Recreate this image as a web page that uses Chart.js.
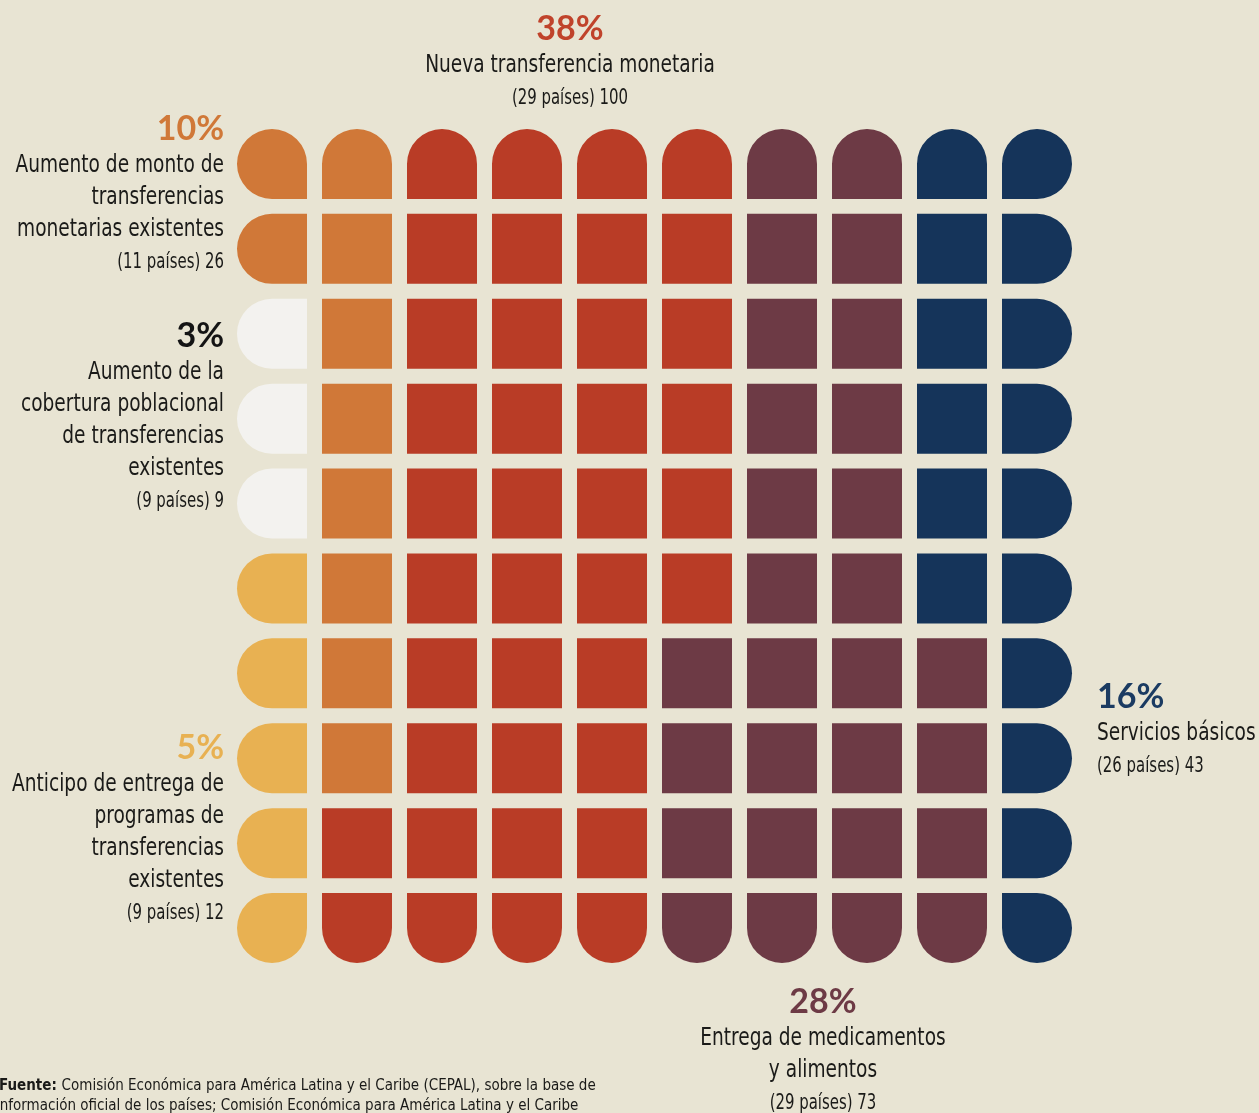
<!DOCTYPE html>
<html>
<head>
<meta charset="utf-8">
<script src="https://cdn.jsdelivr.net/npm/chart.js@4.4.1/dist/chart.umd.min.js"></script>
<style>
html, body { margin: 0; padding: 0; background: #E8E4D3; overflow: hidden; }
canvas { display: block; }
</style>
</head>
<body>
<canvas id="waffleChart" width="1259" height="1113"></canvas>
<script>
// one entry per measure type, largest share first
var categories = [
    ['Nueva transferencia monetaria'],
    ['Entrega de medicamentos', 'y alimentos'],
    ['Servicios básicos'],
    ['Aumento de monto de', 'transferencias', 'monetarias existentes'],
    ['Anticipo de entrega de', 'programas de', 'transferencias', 'existentes'],
    ['Aumento de la', 'cobertura poblacional', 'de transferencias', 'existentes']
];
var percents = [38, 28, 16, 10, 5, 3];
var countries = [29, 29, 26, 11, 9, 9];
var measures = [100, 73, 43, 26, 12, 9];
var colors = ['#B93C26', '#6D3A45', '#15345A', '#D07838', '#E8B152', '#F3F2EF'];
var pctColors = ['#C0432B', '#6D3A45', '#1B3B62', '#D07838', '#E8B152', '#141414'];

// 10 x 10 waffle, one letter per square (1 %), letters in the order of categories
var codes = ['R', 'M', 'N', 'O', 'Y', 'W'];
var grid = [
    'OORRRRMMNN',
    'OORRRRMMNN',
    'WORRRRMMNN',
    'WORRRRMMNN',
    'WORRRRMMNN',
    'YORRRRMMNN',
    'YORRRMMMMN',
    'YORRRMMMMN',
    'YRRRRMMMMN',
    'YRRRRMMMMN'
];
var columns = ['1', '2', '3', '4', '5', '6', '7', '8', '9', '10'];

var condensed = '"Liberation Sans Narrow", "DejaVu Sans Condensed", "Arial Narrow", sans-serif';
var pctFont = 'bold 34px Lato, "Open Sans", sans-serif';
var ink = '#1A1A18';
var squeeze = 0.81; // the original uses a tighter condensed face

// where each category's label sits: anchor x, baseline of the percentage, text align
var labelPos = [
    { x: 570, y: 40, align: 'center' },
    { x: 823, y: 1013, align: 'center' },
    { x: 1097, y: 708, align: 'left' },
    { x: 224, y: 140, align: 'right' },
    { x: 224, y: 759, align: 'right' },
    { x: 224, y: 347, align: 'right' }
];

function narrowText(c, text, x, y) {
    c.save();
    c.translate(x, y);
    c.scale(squeeze, 1);
    c.fillText(text, 0, 0);
    c.restore();
}

var labelsPlugin = {
    id: 'waffleLabels',
    afterDraw: function(chart) {
        var c = chart.ctx;
        c.save();
        categories.forEach(function(lines, i) {
            var p = labelPos[i];
            var y = p.y;
            c.textAlign = p.align;
            c.textBaseline = 'alphabetic';
            c.font = pctFont;
            c.fillStyle = pctColors[i];
            c.fillText(percents[i] + '%', p.x, y);
            c.fillStyle = ink;
            c.font = '25.5px ' + condensed;
            lines.forEach(function(line) {
                y += 32;
                narrowText(c, line, p.x, y);
            });
            y += 32;
            c.font = '20.5px ' + condensed;
            narrowText(c, '(' + countries[i] + ' países) ' + measures[i], p.x, y);
        });

        // source note, cut by the bottom edge like the original
        c.textAlign = 'left';
        c.fillStyle = ink;
        c.font = 'bold 15px ' + condensed;
        c.fillText('Fuente:', -1, 1090);
        var w = c.measureText('Fuente: ').width;
        c.font = '15px ' + condensed;
        c.fillText('Comisión Económica para América Latina y el Caribe (CEPAL), sobre la base de', -1 + w, 1090);
        c.fillText('información oficial de los países; Comisión Económica para América Latina y el Caribe', -4, 1110);
        c.restore();
    }
};

var R = 35;
var ctx = document.getElementById('waffleChart').getContext('2d');
var waffleChart = new Chart(ctx, {
    type: 'bar',
    data: {
        labels: columns,
        datasets: grid.map(function(row, r) {
            return {
                label: 'Fila ' + (r + 1),
                data: columns.map(function() { return [r + 0.088, r + 0.912]; }),
                backgroundColor: row.split('').map(function(k) { return colors[codes.indexOf(k)]; }),
                borderWidth: 0,
                borderSkipped: false,
                grouped: false,
                categoryPercentage: 1,
                barPercentage: 70 / 85,
                borderRadius: function(context) {
                    var rr = context.datasetIndex, cc = context.dataIndex;
                    return {
                        topLeft: (rr === 0 || cc === 0) ? R : 0,
                        topRight: (rr === 0 || cc === 9) ? R : 0,
                        bottomLeft: (rr === 9 || cc === 0) ? R : 0,
                        bottomRight: (rr === 9 || cc === 9) ? R : 0
                    };
                }
            };
        })
    },
    options: {
        responsive: false,
        animation: false,
        layout: {
            padding: { left: 229.5, top: 121.5, right: 179.5, bottom: 142.5 }
        },
        scales: {
            x: { display: false, offset: true },
            y: { display: false, min: 0, max: 10, reverse: true }
        },
        plugins: {
            legend: { display: false },
            tooltip: { enabled: false }
        }
    },
    plugins: [labelsPlugin]
});
</script>
</body>
</html>
